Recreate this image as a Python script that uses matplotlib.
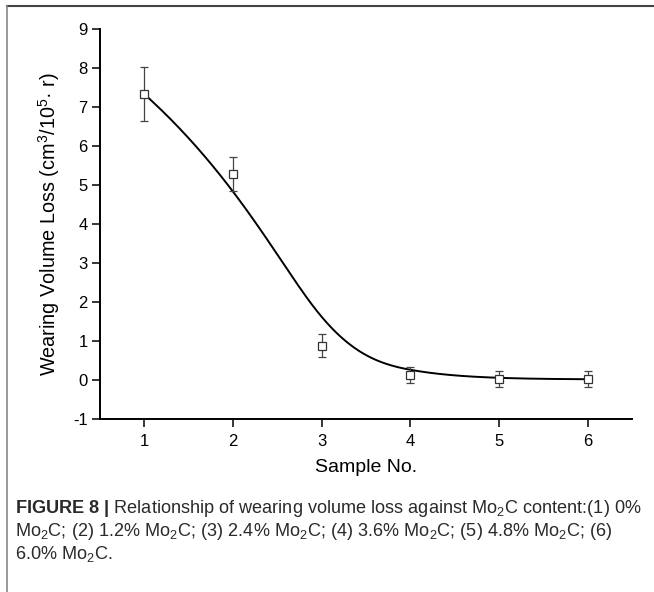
import numpy as np
import matplotlib
matplotlib.use("Agg")
import matplotlib.pyplot as plt
from matplotlib.lines import Line2D

plt.rcParams['font.family'] = ['Liberation Sans', 'DejaVu Sans']
plt.rcParams['mathtext.fontset'] = 'custom'
plt.rcParams['mathtext.rm'] = 'Liberation Sans'
plt.rcParams['mathtext.it'] = 'Liberation Sans:italic'
plt.rcParams['mathtext.bf'] = 'Liberation Sans:bold'
plt.rcParams['axes.unicode_minus'] = False

# perda de volume por desgaste (cm3/10^5 r) para cada amostra
sample_no = [1, 2, 3, 4, 5, 6]
volume_loss = [7.33, 5.28, 0.88, 0.13, 0.03, 0.02]
loss_err = [0.70, 0.43, 0.30, 0.20, 0.20, 0.20]

x_ticks = [1, 2, 3, 4, 5, 6]
y_ticks = [-1, 0, 1, 2, 3, 4, 5, 6, 7, 8, 9]


def de_boor(u, t, P, p=3):
    # ponto da B-spline no parametro u (algoritmo de de Boor)
    k = np.searchsorted(t, u, side='right') - 1
    k = min(k, len(P) - 1)
    d = [P[j + k - p].copy() for j in range(p + 1)]
    for r in range(1, p + 1):
        for j in range(p, r - 1, -1):
            alpha = (u - t[j + k - p]) / (t[j + 1 + k - r] - t[j + k - p])
            d[j] = (1.0 - alpha) * d[j - 1] + alpha * d[j]
    return d[p]


def curva_bspline(x, y, n=400, p=3):
    # B-spline cubica presa nas pontas, pontos de controle = dados
    P = np.column_stack([x, y]).astype(float)
    n_int = len(P) - p - 1
    t = np.concatenate([np.zeros(p + 1), np.arange(1, n_int + 1),
                        np.full(p + 1, n_int + 1)]).astype(float)
    us = np.linspace(t[0], t[-1], n)
    pts = np.array([de_boor(u, t, P, p) for u in us])
    return pts[:, 0], pts[:, 1]


x = np.array(sample_no, dtype=float)
y = np.array(volume_loss, dtype=float)
x_curva, y_curva = curva_bspline(x, y)

fig = plt.figure(figsize=(6.54, 5.92), dpi=100)
ax = fig.add_axes([100 / 654, 1 - 419 / 592, 532 / 654, 390 / 592])

ax.plot(x_curva, y_curva, color='black', lw=1.4, zorder=2)
ax.errorbar(x, y, yerr=loss_err, fmt='none', ecolor='#444444',
            elinewidth=0.9, capsize=2.7, capthick=0.9, zorder=3)
ax.plot(x, y, 's', ms=6, mfc='white', mec='#333333', mew=0.9, zorder=4)

ax.set_xlim(0.5, 6.5)
ax.set_ylim(-1, 9)
ax.set_xticks(x_ticks)
ax.set_yticks(y_ticks)
for lado in ['top', 'right']:
    ax.spines[lado].set_visible(False)
for lado in ['left', 'bottom']:
    ax.spines[lado].set_linewidth(1.4)
ax.tick_params(direction='out', length=6, width=1.1, labelsize=12)
ax.tick_params(axis='y', pad=3)
ax.tick_params(axis='x', pad=5)

ax.set_xlabel('Sample No.', fontsize=14, labelpad=7)
ax.set_ylabel(r'Wearing Volume Loss (cm$^3$/10$^5$· r)', fontsize=14.3, labelpad=8)

# moldura da figura (linhas superior e esquerda)
fig.add_artist(Line2D([7 / 654, 1.0], [1 - 6 / 592, 1 - 6 / 592],
                      transform=fig.transFigure, color='#444444', lw=1.5))
fig.add_artist(Line2D([7 / 654, 7 / 654], [0.0, 1 - 6 / 592],
                      transform=fig.transFigure, color='#888888', lw=1.2))

linhas = [
    r'$\bf{FIGURE\ 8\ |}$ Relationship of wearing volume loss against Mo$_2$C content:(1) 0%',
    r'Mo$_2$C; (2) 1.2% Mo$_2$C; (3) 2.4% Mo$_2$C; (4) 3.6% Mo$_2$C; (5) 4.8% Mo$_2$C; (6)',
    r'6.0% Mo$_2$C.',
]
for i, txt in enumerate(linhas):
    fig.text(15 / 654, 1 - (513 + 23 * i) / 592, txt, fontsize=13.1,
             color='#2a2a2a', ha='left', va='baseline')

plt.savefig('out.png', dpi=100)
